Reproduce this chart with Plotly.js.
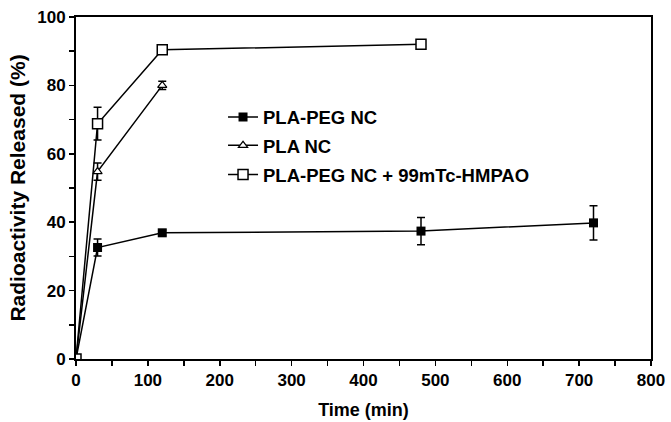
<!DOCTYPE html>
<html>
<head>
<meta charset="utf-8">
<script src="https://cdn.plot.ly/plotly-3.0.1.min.js"></script>
<style>html,body{margin:0;padding:0;background:#fff;}#chart{width:671px;height:422px;}</style>
</head>
<body>
<div id="chart"></div>
<script>
const pegTime = [0, 30, 120, 480, 720];
const pegValue = [0, 32.6, 36.9, 37.4, 39.8];
const pegErr = [0, 2.5, 0.8, 4.0, 5.0];

const plaTime = [0, 30, 120];
const plaValue = [0, 54.8, 80.0];
const plaErr = [0, 2.5, 1.2];

const hmpaoTime = [0, 30, 120, 480];
const hmpaoValue = [0, 68.8, 90.4, 92.0];
const hmpaoErr = [0, 4.8, 1.0, 0];

const seriesNames = ["PLA-PEG NC", "PLA NC", "PLA-PEG NC + 99mTc-HMPAO"];
const xTicks = [0, 100, 200, 300, 400, 500, 600, 700, 800];
const yTicks = [0, 20, 40, 60, 80, 100];

const fontFam = "Liberation Sans, Arial, sans-serif";
const errStyle = (arr) => ({type: 'data', array: arr, visible: true, color: '#000', thickness: 1.5, width: 4});

const traces = [
  {x: pegTime, y: pegValue, name: seriesNames[0], legend: 'legend', mode: 'lines+markers', error_y: errStyle(pegErr),
   line: {color: '#000', width: 1.5}, marker: {symbol: 'square', size: 9, color: '#000'}},
  {x: plaTime, y: plaValue, name: seriesNames[1], legend: 'legend2', mode: 'lines+markers', error_y: errStyle(plaErr),
   line: {color: '#000', width: 1.5}, marker: {symbol: 'triangle-up', size: 8, color: '#fff', line: {color: '#000', width: 1.2}}},
  {x: hmpaoTime, y: hmpaoValue, name: seriesNames[2], legend: 'legend3', mode: 'lines+markers', error_y: errStyle(hmpaoErr),
   line: {color: '#000', width: 1.5}, marker: {symbol: 'square', size: 10, color: '#fff', line: {color: '#000', width: 1.5}}}
];

const legFont = {family: fontFam, size: 18.5, weight: 'bold', color: '#000'};
const mkLegend = (yy) => ({x: 0.2557, y: yy, xanchor: 'left', yanchor: 'top', bgcolor: 'rgba(0,0,0,0)', font: legFont});

const layout = {
  width: 671, height: 422,
  margin: {l: 76, r: 20, t: 17, b: 63},
  paper_bgcolor: '#fff', plot_bgcolor: '#fff',
  font: {family: fontFam, color: '#000', size: 17, weight: 'bold'},
  showlegend: true,
  legend: mkLegend(0.762),
  legend2: mkLegend(0.679),
  legend3: mkLegend(0.594),
  xaxis: {
    range: [0, 800], tickvals: xTicks, ticktext: xTicks.map(String),
    showgrid: false, zeroline: false, showline: true, linecolor: '#000', linewidth: 2, mirror: true,
    ticks: 'outside', ticklen: 5, tickwidth: 1.5, tickcolor: '#000',
    minor: {dtick: 50, ticks: 'outside', ticklen: 5, tickwidth: 1.5, tickcolor: '#000'},
    tickfont: {family: fontFam, size: 17, weight: 'bold'},
    title: {text: 'Time (min)', font: {family: fontFam, size: 18, weight: 'bold'}, standoff: 14}
  },
  yaxis: {
    range: [0, 100], tickvals: yTicks, ticktext: yTicks.map(String),
    showgrid: false, zeroline: false, showline: true, linecolor: '#000', linewidth: 2, mirror: true,
    ticks: 'outside', ticklen: 5, tickwidth: 1.5, tickcolor: '#000',
    minor: {dtick: 10, ticks: 'outside', ticklen: 5, tickwidth: 1.5, tickcolor: '#000'},
    tickfont: {family: fontFam, size: 17, weight: 'bold'},
    title: {text: 'Radioactivity Released (%)', font: {family: fontFam, size: 21, weight: 'bold'}, standoff: 6}
  }
};

Plotly.newPlot('chart', traces, layout, {displayModeBar: false, staticPlot: true});
</script>
</body>
</html>
